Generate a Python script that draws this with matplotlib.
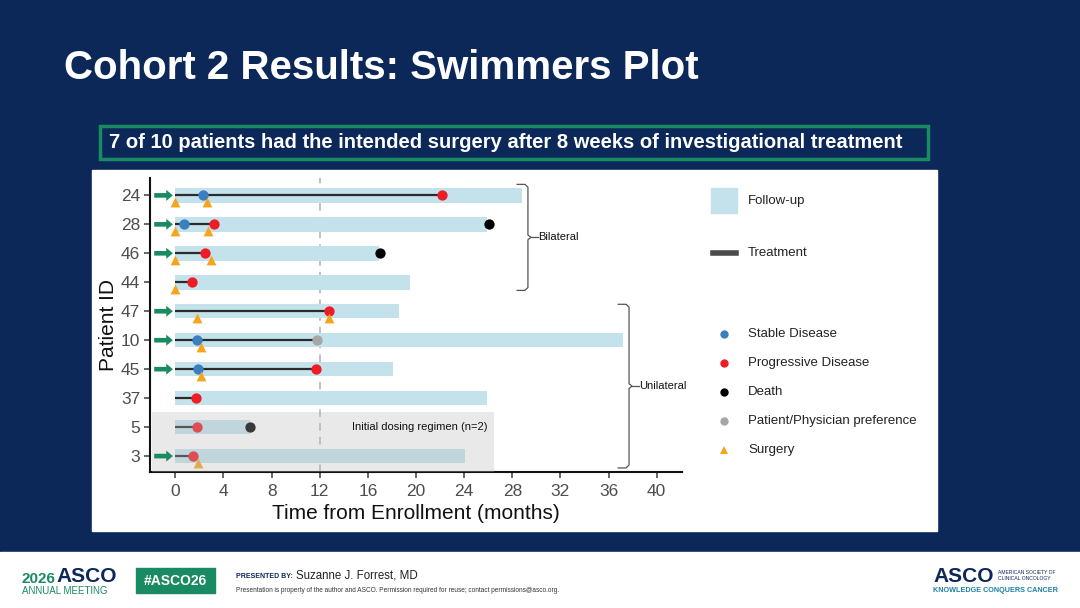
import numpy as np
import matplotlib.pyplot as plt
from matplotlib.patches import Rectangle, FancyArrow
from matplotlib.lines import Line2D

plt.rcParams['font.family'] = ['Liberation Sans', 'DejaVu Sans']

# patients listed top to bottom
patients = ['24', '28', '46', '44', '47', '10', '45', '37', '5', '3']
follow_up = [28.8, 25.9, 16.9, 19.5, 18.6, 37.2, 18.1, 25.9, 6.2, 24.1]
treatment = [22.2, 3.2, 2.5, 1.4, 12.8, 11.8, 11.7, 1.7, 1.8, 1.6]
arrow = [1, 1, 1, 0, 1, 1, 1, 0, 0, 1]

# events: (patient, time)
stable = [('24', 2.3), ('28', 0.7), ('10', 1.8), ('45', 1.9)]
progressive = [('24', 22.2), ('28', 3.2), ('46', 2.5), ('44', 1.4), ('47', 12.8),
               ('45', 11.7), ('37', 1.7), ('5', 1.8), ('3', 1.5)]
death = [('28', 26.1), ('46', 17.0), ('5', 6.2)]
preference = [('10', 11.8)]
surgery = [('24', 0.0), ('24', 2.6), ('28', 0.0), ('28', 2.7), ('46', 0.0), ('46', 3.0),
           ('44', 0.0), ('47', 1.8), ('47', 12.8), ('10', 2.1), ('45', 2.1), ('3', 1.9)]

NAVY = '#0b2859'
GREEN = '#1a8a62'
BAR = '#c3e2eb'
C_SD = '#3b7fc0'
C_PD = '#ee1c25'
C_DEATH = '#000000'
C_PREF = '#a6a6a6'
C_SURG = '#f5a51c'

fig = plt.figure(figsize=(10.8, 6.08), dpi=100)
fig.patch.set_facecolor(NAVY)
W, H = 1080, 608


def fx(px):
    return px / W


def fy(py):
    return 1 - py / H


# white footer and chart panel
fig.add_artist(Rectangle((0, 0), 1, fy(552), transform=fig.transFigure, color='white', zorder=0))
fig.add_artist(Rectangle((fx(92), fy(531)), fx(937) - fx(92), fy(170) - fy(531),
                         transform=fig.transFigure, color='white', zorder=0))

fig.text(fx(64), fy(68), 'Cohort 2 Results: Swimmers Plot', color='white', fontsize=29,
         fontweight='bold', va='center', ha='left')
fig.add_artist(Rectangle((fx(100), fy(159)), fx(928) - fx(100), fy(126) - fy(159),
                         transform=fig.transFigure, facecolor=NAVY, edgecolor=GREEN, lw=2.5))
fig.text(fx(109), fy(143), '7 of 10 patients had the intended surgery after 8 weeks of investigational treatment',
         color='white', fontsize=14.5, fontweight='bold', va='center', ha='left')

ax = fig.add_axes([fx(150), fy(472), fx(682) - fx(150), fy(178) - fy(472)])
ax.set_facecolor('none')

n = len(patients)
ypos = {p: n - i for i, p in enumerate(patients)}
y = np.array([ypos[p] for p in patients])

ax.barh(y, follow_up, left=0, height=0.5, color=BAR, zorder=1)
ax.hlines(y, 0, treatment, color='#2b2b2b', lw=1.6, zorder=2)


def plot_events(events, color, marker, size, dy=0.0):
    xs = [t for p, t in events]
    ys = [ypos[p] + dy for p, t in events]
    ax.scatter(xs, ys, color=color, marker=marker, s=size, zorder=3, linewidths=0)


plot_events(stable, C_SD, 'o', 55)
plot_events(progressive, C_PD, 'o', 55)
plot_events(death, C_DEATH, 'o', 55)
plot_events(preference, C_PREF, 'o', 55)
plot_events(surgery, C_SURG, '^', 50, dy=-0.24)

for yi, a in zip(y, arrow):
    if a:
        ax.add_patch(FancyArrow(-1.75, yi, 1.0, 0, width=0.16, head_width=0.38, head_length=0.55,
                                length_includes_head=False, color=GREEN, zorder=5, lw=0))

# initial dosing regimen shading
ax.add_patch(Rectangle((-1.9, 0.46), 28.4, 2.06, color='#bbbbbb', alpha=0.31, zorder=4, lw=0))
ax.text(25.9, 2.0, 'Initial dosing regimen (n=2)', fontsize=8, ha='right', va='center',
        color='#111111', zorder=6)

ax.axvline(12, color='#b0b0b0', ls=(0, (5, 4)), lw=1.1, zorder=0.5)


def bracket(x, y0, y1, label, hook=0.9):
    ym = (y0 + y1) / 2
    kw = dict(color='#555555', lw=0.9, clip_on=False)
    ax.plot([x - hook, x - 0.25, x, x, x + 0.25, x, x, x - 0.25, x - hook],
            [y1, y1, y1 - 0.1, ym + 0.08, ym, ym - 0.08, y0 + 0.1, y0, y0], **kw)
    ax.plot([x + 0.25, x + 0.8], [ym, ym], **kw)
    ax.text(x + 0.85, ym, label, fontsize=8, ha='left', va='center', color='#111111')


bracket(29.3, 6.72, 10.38, 'Bilateral')
bracket(37.7, 0.59, 6.24, 'Unilateral')

ax.set_xlim(-2.1, 42.1)
ax.set_ylim(0.45, 10.6)
ax.set_xticks(np.arange(0, 41, 4))
ax.set_yticks(y)
ax.set_yticklabels(patients)
ax.tick_params(axis='both', labelsize=12.5, colors='#4d4d4d', length=4, width=1.2)
ax.tick_params(axis='x', pad=5)
ax.tick_params(axis='y', pad=3)
for s in ['top', 'right']:
    ax.spines[s].set_visible(False)
for s in ['left', 'bottom']:
    ax.spines[s].set_linewidth(1.5)
    ax.spines[s].set_color('#111111')
ax.set_xlabel('Time from Enrollment (months)', fontsize=15, color='#111111', labelpad=3)
ax.set_ylabel('Patient ID', fontsize=15, color='#111111', labelpad=2)

# legend (drawn by hand in figure coordinates)
fig.add_artist(Rectangle((fx(711), fy(213)), fx(737) - fx(711), fy(188) - fy(213),
                         transform=fig.transFigure, color=BAR))
fig.text(fx(748), fy(201), 'Follow-up', fontsize=9.5, va='center', color='#222222')
fig.add_artist(Line2D([fx(713), fx(736)], [fy(253), fy(253)], transform=fig.transFigure,
                      color='#4a4a4a', lw=4))
fig.text(fx(748), fy(253), 'Treatment', fontsize=9.5, va='center', color='#222222')
leg_items = [('Stable Disease', C_SD, 'o'), ('Progressive Disease', C_PD, 'o'),
             ('Death', C_DEATH, 'o'), ('Patient/Physician preference', C_PREF, 'o'),
             ('Surgery', C_SURG, '^')]
for i, (lab, c, m) in enumerate(leg_items):
    yy = fy(334 + 29 * i)
    fig.add_artist(Line2D([fx(724)], [yy], transform=fig.transFigure, marker=m, color=c,
                          markersize=6, lw=0, markeredgewidth=0))
    fig.text(fx(748), yy, lab, fontsize=9.5, va='center', color='#222222')

# footer
fig.text(fx(22), fy(579), '2026', fontsize=11, fontweight='bold', color=GREEN, va='center')
fig.text(fx(56), fy(577), 'ASCO', fontsize=15, fontweight='bold', color=NAVY, va='center')
fig.text(fx(22), fy(591), 'ANNUAL MEETING', fontsize=7, color=GREEN, va='center')
fig.add_artist(Rectangle((fx(136), fy(593)), fx(215) - fx(136), fy(568) - fy(593),
                         transform=fig.transFigure, color=GREEN))
fig.text(fx(175.5), fy(581), '#ASCO26', fontsize=10, fontweight='bold', color='white',
         va='center', ha='center')
fig.text(fx(236), fy(576), 'PRESENTED BY:', fontsize=5, fontweight='bold', color=NAVY, va='center')
fig.text(fx(296), fy(575), 'Suzanne J. Forrest, MD', fontsize=8.3, color='#222222', va='center')
fig.text(fx(236), fy(591), 'Presentation is property of the author and ASCO. Permission required for reuse; '
         'contact permissions@asco.org.', fontsize=4.7, color='#333333', va='center')
fig.text(fx(933), fy(577), 'ASCO', fontsize=15, fontweight='bold', color=NAVY, va='center')
fig.text(fx(998), fy(573), 'AMERICAN SOCIETY OF', fontsize=3.6, color=NAVY, va='center')
fig.text(fx(998), fy(579), 'CLINICAL ONCOLOGY', fontsize=3.6, color=NAVY, va='center')
fig.text(fx(933), fy(590), 'KNOWLEDGE CONQUERS CANCER', fontsize=5.2, fontweight='bold',
         color='#1c7fa6', va='center')

fig.savefig('out.png', dpi=100, facecolor=fig.get_facecolor())
